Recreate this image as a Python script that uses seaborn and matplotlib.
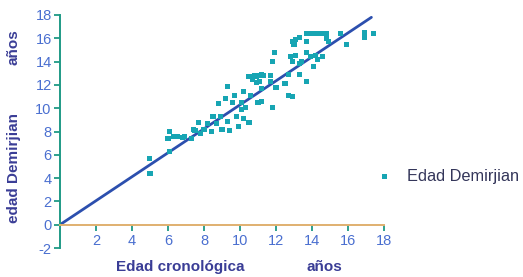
import matplotlib
matplotlib.use("Agg")
import matplotlib.pyplot as plt
import seaborn as sns
import pandas as pd

# Data: chronological age (x) vs Demirjian age (y)
edad_cronologica = [4.97, 5.0, 6.0, 6.1, 6.1, 6.3, 6.5, 6.8, 6.9, 7.3, 7.4, 7.5, 7.7, 7.8, 8.0, 8.2,
                    8.5, 8.4, 8.7, 8.8, 8.9, 9.0, 9.2, 9.3, 9.3, 9.4, 9.6, 9.7, 9.8, 9.9,
                    10.1, 10.1, 10.2, 10.2, 10.3, 10.5, 10.6, 10.9, 11.0, 11.1, 11.2,
                    10.8, 11.0, 11.3, 11.7, 10.7, 10.9, 11.9, 11.8, 11.2, 12.7, 12.9, 11.8,
                    12.9, 13.0, 13.1, 13.3, 13.7, 14.0, 14.3, 14.5, 14.8, 13.7, 14.8, 15.6,
                    14.9, 15.9, 16.9, 16.9, 17.4, 12.8, 12.9, 13.7, 13.9, 14.2, 14.3, 14.6,
                    14.1, 13.3, 13.4, 12.7, 13.3, 13.7, 13.1, 10.5, 11.2, 11.7, 12.0, 12.5]
edad_demirjian = [5.7, 4.4, 7.4, 8.0, 6.3, 7.6, 7.6, 7.5, 7.6, 7.4, 8.2, 8.1, 8.8, 7.8, 8.2, 8.7,
                  9.3, 8.0, 8.7, 10.4, 9.3, 8.2, 10.8, 11.9, 8.9, 8.1, 10.5, 11.1, 9.3, 8.4,
                  9.9, 10.5, 11.4, 9.1, 10.1, 8.8, 11.1, 12.7, 10.5, 12.3, 12.9,
                  12.8, 12.8, 12.8, 12.8, 12.5, 12.2, 14.8, 14.0, 10.6, 11.1, 11.0, 10.1,
                  15.7, 15.5, 15.9, 16.1, 16.4, 16.4, 16.4, 16.4, 16.4, 15.7, 16.0, 16.4,
                  15.7, 15.5, 16.5, 16.1, 16.4, 14.4, 14.0, 14.8, 14.4, 14.5, 14.2, 14.4,
                  13.6, 13.8, 14.0, 12.9, 12.9, 12.3, 14.5, 12.7, 11.7, 12.3, 11.8, 12.1]
linea_x = [0.0, 17.3]
linea_y = [0.0, 17.8]
x_ticks = [2, 4, 6, 8, 10, 12, 14, 16, 18]
y_ticks = [-2, 0, 2, 4, 6, 8, 10, 12, 14, 16, 18]

sns.set_style("white")
plt.rcParams['font.family'] = ['Liberation Sans', 'DejaVu Sans']

fig = plt.figure(figsize=(5.23, 2.77), dpi=100)
ax = fig.add_axes([60/523, 1-248/277, (384-60)/523, (248-15)/277])

df = pd.DataFrame({"x": edad_cronologica, "y": edad_demirjian})
point_color = "#17a5b3"
line_color = "#2c4fae"
axis_color = "#1f9a86"
tick_color = "#4a6fd0"
label_color = "#3a3d96"

sns.lineplot(x=linea_x, y=linea_y, ax=ax, color=line_color, linewidth=2.0, zorder=2)
sns.scatterplot(data=df, x="x", y="y", ax=ax, marker="s", s=13, color=point_color,
                edgecolor="none", linewidth=0, zorder=3, label="Edad Demirjian", legend=False)

ax.set_xlim(0, 18)
ax.set_ylim(-2, 18)
ax.set_xticks(x_ticks)
ax.set_yticks(y_ticks)
ax.set_xticklabels([str(t) for t in x_ticks])
ax.set_yticklabels([str(t) for t in y_ticks])

for s in ["top", "right"]:
    ax.spines[s].set_visible(False)
ax.spines["bottom"].set_position(("data", 0))
ax.spines["bottom"].set_color("#e0b070")
ax.spines["bottom"].set_linewidth(1.4)
ax.spines["left"].set_color(axis_color)
ax.spines["left"].set_linewidth(1.4)
ax.tick_params(axis="both", which="major", bottom=True, left=True, direction="out",
               length=4, width=1.3, color=axis_color,
               labelcolor=tick_color, labelsize=10.5)
ax.tick_params(axis="x", pad=3)
ax.tick_params(axis="y", pad=2)
ax.set_xlabel("")
ax.set_ylabel("")

# Axis titles
fig.text(180/523, 1-267/277, "Edad cronológica", ha="center", va="center",
         fontsize=11, fontweight="bold", color=label_color)
fig.text(324/523, 1-267/277, "años", ha="center", va="center",
         fontsize=11, fontweight="bold", color=label_color)
fig.text(14/523, 1-168/277, "edad Demirjian", ha="center", va="center", rotation=90,
         fontsize=11, fontweight="bold", color=label_color)
fig.text(14/523, 1-47/277, "años", ha="center", va="center", rotation=90,
         fontsize=11, fontweight="bold", color=label_color)

# Legend
fig.legend(handles=ax.collections[-1:], labels=["Edad Demirjian"], loc="center left",
           bbox_to_anchor=(379/523, 1-176/277), frameon=False, fontsize=11.8,
           labelcolor="#34365a", handlelength=0.7, handletextpad=1.0,
           borderpad=0, borderaxespad=0, markerscale=1.0)

fig.savefig("out.png", dpi=100)
